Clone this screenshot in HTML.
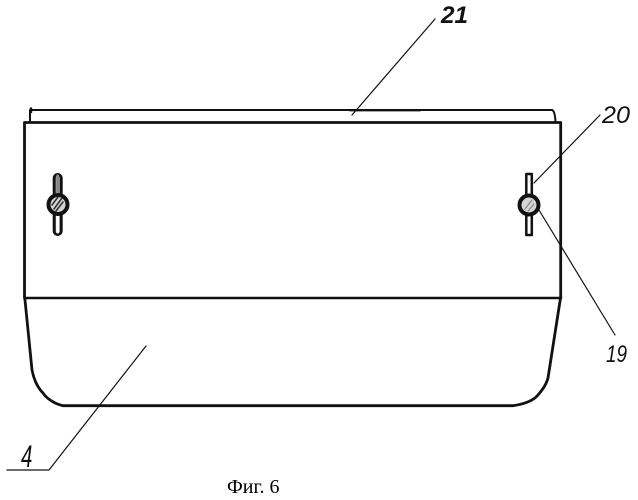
<!DOCTYPE html>
<html>
<head>
<meta charset="utf-8">
<style>
html,body{margin:0;padding:0;background:#fff;width:638px;height:500px;overflow:hidden}
svg{display:block}
.lab{font-family:"Liberation Sans",sans-serif;font-style:italic;font-size:24px;fill:#111}
.cap{font-family:"Liberation Serif",serif;font-size:20px;fill:#000}
</style>
</head>
<body>
<svg width="638" height="500" viewBox="0 0 638 500" xmlns="http://www.w3.org/2000/svg">
<g fill="none" stroke="#111" stroke-linecap="round" stroke-linejoin="round">
<!-- top cover -->
<path d="M30 122V110H552Q555 111 555.5 122" stroke-width="2"/>
<path d="M31 108.5V112" stroke-width="2.5"/>
<path d="M350 110.2H420" stroke-width="2.4"/>
<!-- body -->
<path d="M24.5 298V122.5H560.7V298" stroke-width="2.8"/>
<path d="M25 298H561" stroke-width="2.4"/>
<!-- lower part -->
<path d="M24.8 298L32 370C34 380 38 388 43 393C47 399 55 404 63 405.7H513C525 404 533 401 538 395C543 389 546 385 548 378L560.5 298" stroke-width="2.8"/>
<!-- leaders -->
<path d="M435 19L352 115" stroke-width="1.2"/>
<path d="M600 115L534 183" stroke-width="1.2"/>
<path d="M539 210L615 335" stroke-width="1.2"/>
<path d="M146 346L49 470H7" stroke-width="1.2"/>
<!-- left bolt -->
<rect x="54.2" y="174.5" width="7" height="60" rx="3.5" fill="#ccc" stroke-width="3"/>
<path d="M57.7 176V193" stroke="#888" stroke-width="3"/>
<path d="M57.7 215V232" stroke="#fff" stroke-width="3"/>
<circle cx="58" cy="204.5" r="9.5" fill="#d5d5d5" stroke-width="4"/>
<path d="M54 209L62 198M56 211L63 202M52 205L58 197" stroke-width="1.6" stroke="#333"/>
<!-- right bolt -->
<rect x="526.3" y="174" width="5.5" height="61" stroke-width="2.5"/>
<circle cx="529" cy="205" r="9.5" fill="#d5d5d5" stroke-width="4"/>
<path d="M525 209L532 200M528 211L534 204" stroke-width="1.2" stroke="#888"/>
</g>
<text class="lab" x="441" y="23" textLength="27" lengthAdjust="spacingAndGlyphs" font-weight="bold">21</text>
<text class="lab" x="602" y="123" textLength="28" lengthAdjust="spacingAndGlyphs">20</text>
<text class="lab" x="606" y="362" textLength="21" lengthAdjust="spacingAndGlyphs">19</text>
<text class="lab" x="0" y="0" transform="translate(21 467) scale(0.85 1.3)">4</text>
<text class="cap" x="227" y="493">Фиг. 6</text>
</svg>
</body>
</html>
